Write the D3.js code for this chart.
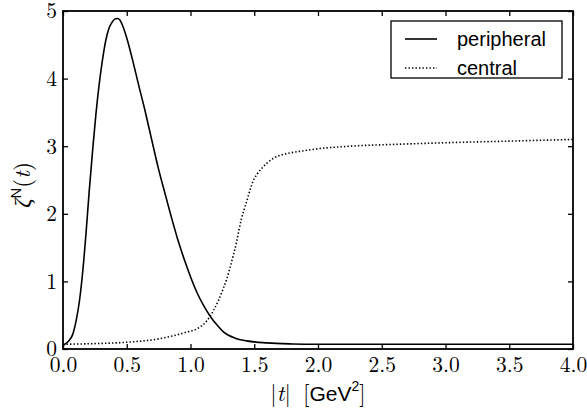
<!DOCTYPE html>
<html>
<head>
<meta charset="utf-8">
<script src="https://cdn.jsdelivr.net/npm/d3@7"></script>
<style>
  html, body { margin: 0; padding: 0; background: #fff; }
  svg { display: block; }
</style>
</head>
<body>
<script>
// |t| values (GeV^2) and form-factor values for each profile
const peripheralT = [0, 0.013, 0.045, 0.077, 0.103, 0.129, 0.155, 0.18, 0.205, 0.232, 0.258, 0.284, 0.31, 0.335, 0.36, 0.387, 0.405, 0.427, 0.445, 0.464, 0.5, 0.541, 0.59, 0.644, 0.695, 0.747, 0.8, 0.85, 0.9, 0.954, 1.0, 1.057, 1.11, 1.16, 1.21, 1.26, 1.35, 1.44, 1.6, 1.8, 2.0, 2.5, 3.0, 3.5, 4.0];
const peripheralV = [0.05, 0.07, 0.12, 0.22, 0.42, 0.71, 1.15, 1.70, 2.32, 2.93, 3.47, 3.92, 4.28, 4.56, 4.74, 4.84, 4.88, 4.89, 4.87, 4.80, 4.60, 4.31, 3.93, 3.52, 3.10, 2.68, 2.30, 1.95, 1.62, 1.31, 1.07, 0.81, 0.62, 0.47, 0.35, 0.25, 0.16, 0.12, 0.09, 0.075, 0.07, 0.07, 0.07, 0.07, 0.07];

const centralT = [0, 0.25, 0.5, 0.75, 0.95, 1.07, 1.13, 1.18, 1.22, 1.256, 1.285, 1.308, 1.335, 1.361, 1.38, 1.40, 1.42, 1.44, 1.465, 1.49, 1.52, 1.558, 1.6, 1.65, 1.71, 1.78, 1.88, 1.99, 2.25, 2.65, 3.17, 3.6, 4.0];
const centralV = [0.07, 0.08, 0.10, 0.15, 0.24, 0.32, 0.42, 0.57, 0.72, 0.89, 1.04, 1.19, 1.38, 1.58, 1.76, 1.93, 2.06, 2.18, 2.34, 2.48, 2.58, 2.67, 2.75, 2.82, 2.87, 2.90, 2.93, 2.96, 3.00, 3.03, 3.06, 3.08, 3.10];

const xTicks = [0, 0.5, 1.0, 1.5, 2.0, 2.5, 3.0, 3.5, 4.0];
const yTicks = [0, 1, 2, 3, 4, 5];
const seriesNames = ["peripheral", "central"];

const W = 587, H = 417;
const margin = { left: 63, right: 14, top: 11, bottom: 68 };
const plotW = W - margin.left - margin.right;
const plotH = H - margin.top - margin.bottom;

const SERIF = '"Latin Modern Roman", "Liberation Serif", serif';
const SANS = '"Liberation Sans", Arial, sans-serif';

const svg = d3.select("body").append("svg")
  .attr("width", W).attr("height", H);

const x = d3.scaleLinear().domain([0, 4]).range([margin.left, margin.left + plotW]);
const y = d3.scaleLinear().domain([0, 5]).range([margin.top + plotH, margin.top]);

// inward ticks on all four sides
const tickLen = 5;
const axes = [
  { gen: d3.axisBottom(x).tickValues(xTicks).tickFormat(d3.format(".1f")), tr: `translate(0,${y(0)})`, cls: "xb" },
  { gen: d3.axisTop(x).tickValues(xTicks).tickFormat(""), tr: `translate(0,${y(5)})` },
  { gen: d3.axisLeft(y).tickValues(yTicks).tickFormat(d3.format("d")), tr: `translate(${x(0)},0)`, cls: "yl" },
  { gen: d3.axisRight(y).tickValues(yTicks).tickFormat(""), tr: `translate(${x(4)},0)` }
];
axes.forEach(a => {
  const g = svg.append("g").attr("transform", a.tr)
    .call(a.gen.tickSizeInner(-tickLen).tickSizeOuter(0).tickPadding(0));
  g.attr("font-family", null).attr("font-size", null);
  g.select(".domain").remove();
  g.selectAll(".tick line").attr("stroke", "#000").attr("stroke-width", 1.3);
  g.selectAll("text").style("font-family", SERIF).style("font-size", "21.5px").attr("fill", "#000");
  if (a.cls === "xb") g.selectAll("text").attr("y", 0).attr("dy", null).attr("transform", "translate(0,23)");
  if (a.cls === "yl") g.selectAll("text").attr("x", -6).attr("dy", "0.32em");
});

// curves
const line = d3.line().x(d => x(d[0])).y(d => y(d[1])).curve(d3.curveMonotoneX);
const peripheral = peripheralT.map((t, i) => [t, peripheralV[i]]);
const central = centralT.map((t, i) => [t, centralV[i]]);

svg.append("clipPath").attr("id", "plotclip").append("rect")
  .attr("x", margin.left).attr("y", margin.top).attr("width", plotW).attr("height", plotH);

svg.append("path").datum(peripheral).attr("d", line)
  .attr("fill", "none").attr("stroke", "#000").attr("stroke-width", 1.6)
  .attr("clip-path", "url(#plotclip)");
svg.append("path").datum(central).attr("d", line)
  .attr("fill", "none").attr("stroke", "#000").attr("stroke-width", 1.6)
  .attr("stroke-dasharray", "1.4,2.1")
  .attr("clip-path", "url(#plotclip)");

// frame
svg.append("rect")
  .attr("x", margin.left).attr("y", margin.top).attr("width", plotW).attr("height", plotH)
  .attr("fill", "none").attr("stroke", "#000").attr("stroke-width", 1.8);

// legend
const lg = svg.append("g");
lg.append("rect").attr("x", 391).attr("y", 21).attr("width", 171).attr("height", 57)
  .attr("fill", "#fff").attr("stroke", "#000").attr("stroke-width", 1.3);
const legendRows = [
  { name: seriesNames[0], dash: null, yy: 39 },
  { name: seriesNames[1], dash: "1.4,2.1", yy: 68 }
];
legendRows.forEach(r => {
  lg.append("line").attr("x1", 405).attr("x2", 437).attr("y1", r.yy).attr("y2", r.yy)
    .attr("stroke", "#000").attr("stroke-width", 1.6)
    .attr("stroke-dasharray", r.dash);
  lg.append("text").attr("x", 457).attr("y", r.yy + 6.5)
    .style("font-family", SANS).style("font-size", "20px").attr("fill", "#000")
    .text(r.name);
});

// x-axis label: |t| [GeV^2]
const xl = svg.append("text").attr("x", x(2)).attr("y", 401)
  .attr("text-anchor", "middle").style("font-family", SERIF).style("font-size", "23px").attr("fill", "#000");
xl.append("tspan").text("|");
xl.append("tspan").style("font-style", "italic").text("t");
xl.append("tspan").text("|\u2009 [");
xl.append("tspan").style("font-family", SANS).style("font-size", "21px").text("GeV");
xl.append("tspan").style("font-family", SANS).style("font-size", "14px").attr("dy", -10).text("2");
xl.append("tspan").attr("dy", 10).text("]");

// y-axis label: zeta^N(t)
const yl = svg.append("text")
  .attr("transform", `translate(30,${(y(0) + y(5)) / 2 + 5}) rotate(-90)`)
  .attr("text-anchor", "middle").style("font-family", SERIF).style("font-size", "23px").attr("fill", "#000");
yl.append("tspan").style("font-style", "italic").text("ζ");
yl.append("tspan").style("font-family", SANS).style("font-size", "15px").attr("dy", -9).text("N");
yl.append("tspan").attr("dy", 9).text("(");
yl.append("tspan").style("font-style", "italic").text("t");
yl.append("tspan").text(")");
</script>
</body>
</html>
